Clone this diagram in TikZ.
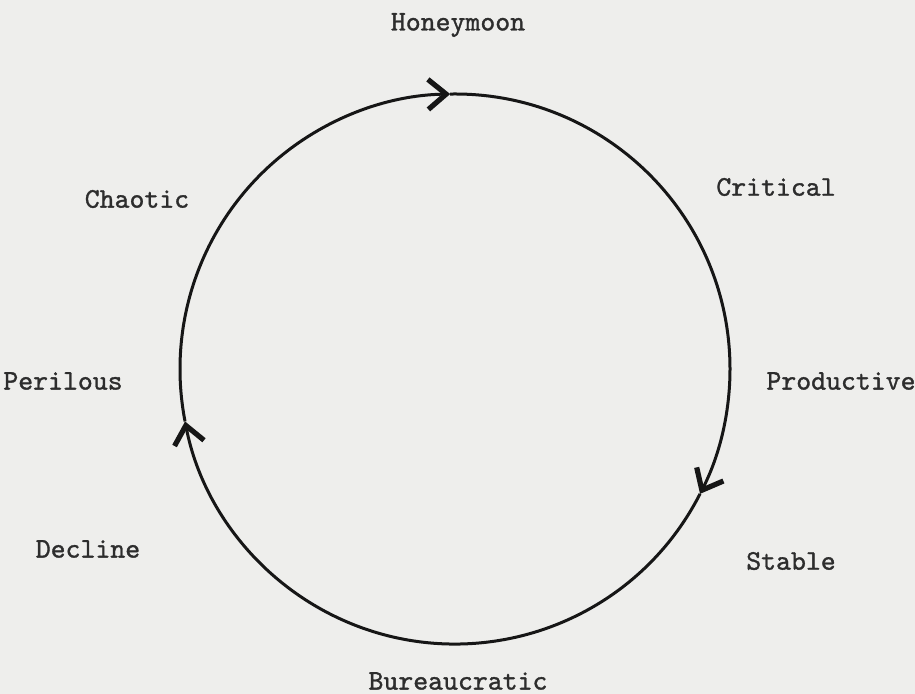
\documentclass[tikz,border=0pt]{standalone}
\usepackage{fontspec}
\newfontfamily\typew[FakeBold=1.2]{lmmono10-regular.otf}
\usetikzlibrary{arrows.meta,calc}
\definecolor{paper}{RGB}{238,238,236}
\definecolor{ink}{RGB}{22,22,22}
\tikzset{
  lbl/.style={font=\typew\fontsize{14.2}{16}\selectfont, text=ink!90, inner sep=0pt},
  ring/.style={draw=ink, line width=1.5pt, -{Straight Barb[length=9pt,width=15pt,line width=2.6pt]}},
}
\begin{document}
\begin{tikzpicture}[x=0.5pt,y=-0.5pt]
\fill[paper] (0,0) rectangle (915,694);
\useasboundingbox (0,0) rectangle (915,694);
\coordinate (c) at (455,369);
\coordinate (pl) at ($(c)+(191:137.5pt)$);
\coordinate (pt) at ($(c)+(91:137.5pt)$);
\coordinate (pr) at ($(c)+(-27:137.5pt)$);
\draw[ring] (pl) arc[start angle=191, end angle=91, radius=137.5pt];
\draw[ring] (pt) arc[start angle=91, end angle=-27, radius=137.5pt];
\draw[ring] (pr) arc[start angle=333, end angle=191, radius=137.5pt];
\node[lbl] (honey) at (458,25) {Honeymoon};
\node[lbl] (crit) at (776,187) {Critical};
\node[lbl] (chaos) at (137,199) {Chaotic};
\node[lbl] (peril) at (63,381) {Perilous};
\node[lbl] (prod) at (841,381) {Productive};
\node[lbl] (decl) at (88,549) {Decline};
\node[lbl] (stab) at (791,561) {Stable};
\node[lbl] (bur) at (458,681) {Bureaucratic};
\end{tikzpicture}
\end{document}
